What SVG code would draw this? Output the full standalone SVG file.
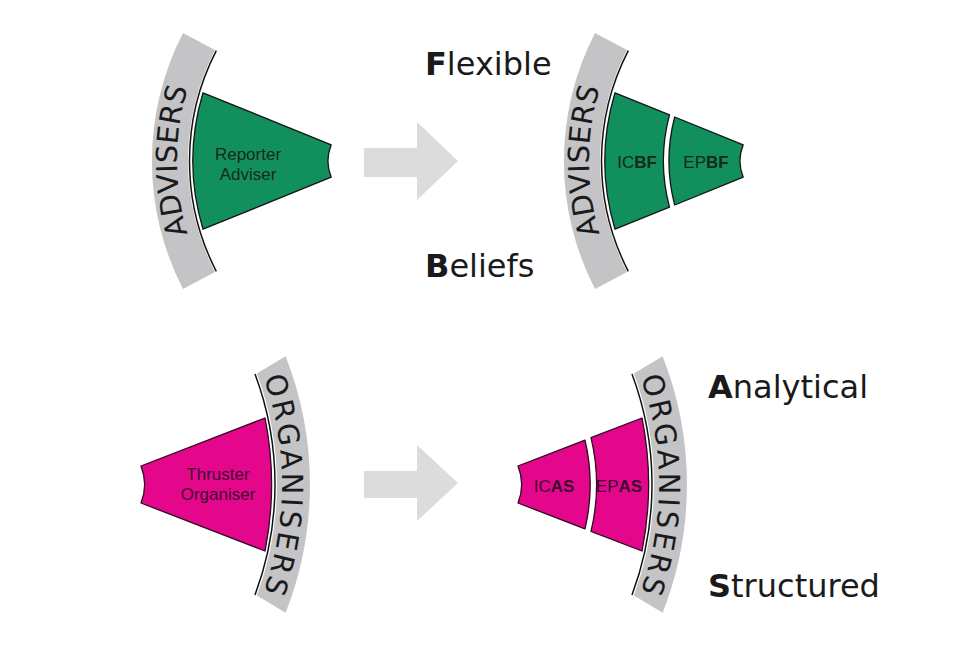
<svg xmlns="http://www.w3.org/2000/svg" width="974" height="656" viewBox="0 0 974 656">
<defs>
<style>
.band{fill:#c4c4c6}
.edge{fill:none;stroke:#111;stroke-width:1.5}
.green{fill:#11905d;stroke:#141414;stroke-width:1.3;stroke-linejoin:round}
.pink{fill:#e5078b;stroke:#2a0a1e;stroke-width:1.3;stroke-linejoin:round}
.bandtxt{font-family:"DejaVu Sans","Liberation Sans",sans-serif;font-size:29px;fill:#1a1a1a}
.lbl{font-family:"Liberation Sans",Arial,sans-serif;font-size:17px;text-anchor:middle}
.glbl{fill:#16281d}
.plbl{fill:#3d0830}
.big{font-family:"DejaVu Sans","Liberation Sans",sans-serif;font-size:32px;fill:#1a1a1a}
.arrow{fill:#dcdcdc}
</style>
<path id="tpA1" d="M 210.9,287.5 A 253 253 0 0 1 210.9,34.5"/>
<path id="tpA2" d="M 622.9,287.5 A 253 253 0 0 1 622.9,34.5"/>
<path id="tpO1" d="M 251.8,348.4 A 322 322 0 0 1 251.8,620.6"/>
<path id="tpO2" d="M 628.8,348.4 A 322 322 0 0 1 628.8,620.6"/>
</defs>
<rect width="974" height="656" fill="#ffffff"/>

<g id="connectors">
<polygon class="arrow" points="364,148 417,148 417,122 458,161 417,200 417,177 364,177"/>
<polygon class="arrow" points="364,471 417,471 417,445 458,483 417,521 417,498 364,498"/>
</g>

<g id="advisers-before">
<path class="band" d="M 183,33 A 279 279 0 0 0 183,289 L 215,272 A 242 242 0 0 1 215,50 Z"/>
<path class="edge" d="M 216.3,271.3 A 240.5 240.5 0 0 1 216.3,50.7"/>
<text class="bandtxt"><textPath href="#tpA1" startOffset="50%" text-anchor="middle" textLength="148">ADVISERS</textPath></text>
<g id="reporter-adviser">
<path class="green" d="M 203,92.8 L 331.2,144.8 A 43 43 0 0 0 331.2,177.2 L 203,229.2 A 237 237 0 0 1 203,92.8 Z"/>
<text class="lbl glbl" x="248" y="160">Reporter</text>
<text class="lbl glbl" x="248" y="180">Adviser</text>
</g>
</g>

<g id="advisers-after">
<path class="band" d="M 595,33 A 279 279 0 0 0 595,289 L 627,272 A 242 242 0 0 1 627,50 Z"/>
<path class="edge" d="M 628.3,271.3 A 240.5 240.5 0 0 1 628.3,50.7"/>
<text class="bandtxt"><textPath href="#tpA2" startOffset="50%" text-anchor="middle" textLength="148">ADVISERS</textPath></text>
<g id="icbf">
<path class="green" d="M 615,92.8 L 669.5,114.9 A 178.5 178.5 0 0 0 669.5,207.1 L 615,229.2 A 237 237 0 0 1 615,92.8 Z"/>
<text class="lbl glbl" x="637" y="168">IC<tspan font-weight="bold">BF</tspan></text>
</g>
<g id="epbf">
<path class="green" d="M 674.7,117 L 743.2,144.8 A 43 43 0 0 0 743.2,177.2 L 674.7,205 A 173 173 0 0 1 674.7,117 Z"/>
<text class="lbl glbl" x="706" y="168">EP<tspan font-weight="bold">BF</tspan></text>
</g>
</g>

<g id="flexible-beliefs">
<text class="big" x="425" y="75"><tspan font-weight="bold">F</tspan>lexible</text>
<text class="big" x="425" y="277"><tspan font-weight="bold">B</tspan>eliefs</text>
</g>

<g id="organisers-before">
<path class="band" d="M 285.6,356.2 A 350 350 0 0 1 285.6,612.8 L 256.9,595.5 A 317 317 0 0 0 256.9,373.5 Z"/>
<path class="edge" d="M 255,374 A 315 315 0 0 1 255,595"/>
<text class="bandtxt"><textPath href="#tpO1" startOffset="50%" text-anchor="middle" textLength="218">ORGANISERS</textPath></text>
<g id="thruster-organiser">
<path class="pink" d="M 265,418 A 340 340 0 0 1 265,551 L 141,503 A 50 50 0 0 0 141,466 Z"/>
<text class="lbl plbl" x="218" y="480">Thruster</text>
<text class="lbl plbl" x="218" y="500">Organiser</text>
</g>
</g>

<g id="organisers-after">
<path class="band" d="M 662.6,356.2 A 350 350 0 0 1 662.6,612.8 L 633.9,595.5 A 317 317 0 0 0 633.9,373.5 Z"/>
<path class="edge" d="M 632,374 A 315 315 0 0 1 632,595"/>
<text class="bandtxt"><textPath href="#tpO2" startOffset="50%" text-anchor="middle" textLength="218">ORGANISERS</textPath></text>
<g id="icas">
<path class="pink" d="M 585,440.1 A 194 194 0 0 1 585,528.9 L 518,503 A 50 50 0 0 0 518,466 Z"/>
<text class="lbl plbl" x="554" y="492">IC<tspan font-weight="bold">AS</tspan></text>
</g>
<g id="epas">
<path class="pink" d="M 591,437.7 L 642,418 A 340 340 0 0 1 642,551 L 591,531.3 A 200 200 0 0 0 591,437.7 Z"/>
<text class="lbl plbl" x="619" y="492">EP<tspan font-weight="bold">AS</tspan></text>
</g>
</g>

<g id="analytical-structured">
<text class="big" x="708" y="398"><tspan font-weight="bold">A</tspan>nalytical</text>
<text class="big" x="708" y="597"><tspan font-weight="bold">S</tspan>tructured</text>
</g>
</svg>
